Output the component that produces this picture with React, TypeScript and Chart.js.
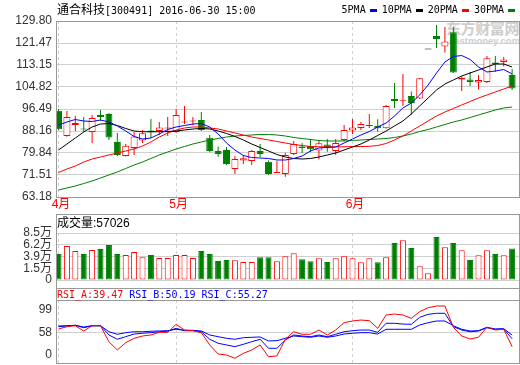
import React, { useEffect, useRef } from 'react';
import { Chart, registerables } from 'chart.js';

Chart.register(...registerables);

// ---------- data ----------
const stockName = '通合科技';
const stockCode = '300491';
const dateTime = '2016-06-30 15:00';

const openPrice = [95.85, 86.27, 90.43, 89.11, 87.78, 94.22, 94.60, 84.00, 78.70, 81.73,
  84.57, 88.35, 88.16, 89.11, 87.78, 91.38, 91.76, 92.33, 85.63, 80.59,
  80.97, 73.78, 76.99, 76.81, 80.59, 76.54, 72.27, 71.89, 79.46, 82.30,
  82.49, 80.78, 83.05, 80.59, 84.76, 88.35, 89.30, 90.06, 90.06, 89.19,
  100.28, 99.40, 101.41, 100.47, 119.01, 124.12, 120.15, 125.50, 107.66, 107.66,
  106.52, 106.71, 114.09, 114.28, 109.36];
const highPrice = [96.50, 95.73, 93.84, 93.46, 94.22, 96.11, 94.98, 87.41, 83.24, 87.78,
  88.54, 92.71, 91.57, 93.46, 96.49, 97.63, 93.46, 95.35, 86.65, 82.30,
  82.11, 78.70, 79.08, 80.97, 83.24, 76.99, 76.81, 79.95, 84.38, 83.62,
  85.14, 84.76, 85.14, 85.14, 90.43, 92.71, 91.57, 94.60, 92.59, 98.00,
  106.33, 109.74, 103.11, 108.20, 119.01, 128.29, 127.53, 127.53, 108.79, 110.50,
  109.36, 116.55, 116.55, 116.17, 111.63];
const lowPrice = [88.50, 86.00, 88.16, 87.78, 83.62, 91.95, 84.76, 78.70, 78.50, 79.08,
  83.62, 85.51, 86.65, 86.27, 87.41, 90.81, 90.24, 88.16, 80.10, 78.43,
  75.29, 71.89, 75.67, 75.29, 78.32, 71.51, 72.27, 70.86, 79.08, 79.84,
  80.33, 77.45, 80.33, 79.08, 84.38, 87.03, 88.54, 89.30, 87.90, 89.11,
  96.87, 97.63, 94.22, 100.30, 119.01, 119.58, 117.88, 110.12, 103.30, 105.20,
  103.87, 106.33, 110.50, 112.58, 103.68];
const closePrice = [88.81, 93.46, 91.19, 88.73, 93.08, 93.46, 85.70, 79.08, 82.60, 86.08,
  87.29, 87.78, 89.49, 89.30, 94.22, 91.68, 92.14, 88.54, 80.59, 79.46,
  75.67, 77.56, 77.83, 80.59, 79.46, 71.89, 72.53, 79.08, 83.24, 81.73,
  81.24, 83.51, 81.99, 83.62, 88.54, 89.49, 90.81, 90.24, 89.19, 97.63,
  99.52, 99.71, 98.76, 108.11, 119.01, 122.99, 122.04, 110.31, 108.22, 106.71,
  107.47, 115.68, 113.52, 115.23, 104.25];

const volume = [47000, 61500, 52400, 47000, 54300, 56100, 63300, 47000, 45200, 50600,
  41000, 45200, 39800, 39800, 45200, 45200, 39800, 52400, 47000, 34400,
  36200, 35600, 32600, 32600, 41000, 41000, 33800, 42800, 48300, 37400,
  33800, 39200, 32600, 39200, 42800, 39200, 32000, 39200, 32000, 41000,
  66900, 71800, 57900, 24800, 12100, 77800, 59100, 66900, 53700, 36200,
  44700, 53700, 47000, 44700, 57026];

const ma5 = [90.43, 91.57, 92.52, 91.95, 91.76, 92.33, 91.57, 90.06, 88.16, 86.08,
  85.13, 85.51, 87.03, 88.73, 89.68, 90.24, 90.81, 91.00, 89.68, 87.03,
  83.62, 80.97, 78.89, 78.13, 77.94, 77.75, 77.19, 77.19, 77.75, 78.70,
  80.59, 81.73, 81.92, 82.11, 83.62, 85.13, 86.65, 87.97, 89.68, 91.19,
  93.84, 96.87, 98.76, 101.79, 105.57, 110.12, 114.28, 116.36, 116.74, 115.23,
  112.39, 110.49, 110.87, 111.44, 109.74];
const ma10 = [80.97, 83.24, 85.51, 87.78, 89.68, 90.81, 91.00, 90.24, 89.11, 88.16,
  87.90, 87.85, 87.90, 87.97, 88.16, 88.54, 88.92, 89.11, 88.92, 88.16,
  87.22, 86.08, 84.76, 83.24, 81.92, 80.59, 79.27, 78.32, 77.75, 77.56,
  77.75, 78.32, 79.08, 79.84, 80.97, 82.11, 83.24, 84.76, 86.46, 88.16,
  90.06, 91.95, 94.60, 97.63, 100.65, 103.68, 105.95, 107.47, 108.98, 110.12,
  111.25, 112.39, 113.52, 113.52, 112.39];
const ma20 = [72.45, 73.78, 74.91, 76.43, 77.56, 78.32, 79.08, 79.84, 80.59, 81.35,
  82.48, 84.00, 85.89, 87.41, 88.54, 89.30, 89.68, 89.68, 89.30, 88.92,
  88.16, 87.41, 86.65, 85.89, 85.32, 84.76, 84.19, 83.62, 83.05, 82.67,
  82.30, 82.20, 82.15, 82.15, 82.20, 82.25, 82.30, 82.35, 82.67, 83.43,
  84.76, 86.27, 88.16, 90.06, 91.95, 93.84, 95.35, 96.68, 98.00, 99.33,
  100.65, 101.79, 102.93, 104.06, 105.20];
const ma30 = [65.83, 66.59, 67.34, 68.29, 69.24, 70.37, 71.51, 72.64, 73.97, 75.29,
  76.43, 77.75, 79.08, 80.21, 81.35, 82.30, 83.24, 84.00, 84.76, 85.32,
  85.89, 86.27, 86.46, 86.65, 86.84, 86.84, 86.65, 86.27, 85.70, 85.32,
  84.95, 84.57, 84.38, 84.38, 84.38, 84.57, 84.76, 84.95, 85.13, 85.32,
  85.70, 86.27, 87.03, 87.97, 88.73, 89.68, 90.62, 91.57, 92.33, 93.27,
  94.22, 95.17, 96.11, 96.87, 97.25];

const rsiA = [63.4, 66.5, 67.8, 60.7, 67.8, 67.8, 46.2, 35.0, 44.9, 50.8,
  53.9, 55.3, 58.9, 58.9, 69.7, 62.0, 61.1, 58.4, 41.8, 29.6,
  28.2, 23.8, 30.5, 35.0, 41.8, 25.9, 26.9, 49.5, 59.7, 56.2,
  56.2, 62.0, 55.3, 62.0, 71.9, 74.2, 75.5, 74.6, 64.3, 82.3,
  83.6, 82.3, 77.8, 86.8, 92.2, 94.5, 94.5, 65.7, 53.9, 49.9,
  52.2, 65.7, 62.0, 63.0, 39.47];
const rsiB = [66.5, 67.4, 68.4, 65.1, 67.8, 67.8, 55.3, 49.5, 53.0, 56.6,
  57.6, 58.4, 59.7, 60.3, 64.3, 61.1, 61.1, 59.7, 49.5, 44.1,
  41.8, 39.5, 42.7, 46.2, 49.5, 37.3, 37.3, 48.5, 55.3, 53.9,
  53.0, 55.3, 53.0, 56.2, 59.7, 61.1, 62.0, 62.0, 58.9, 71.1,
  71.1, 70.1, 69.7, 79.2, 83.2, 84.6, 84.6, 66.5, 62.0, 59.7,
  60.7, 65.1, 63.0, 63.4, 50.19];
const rsiC = [67.4, 67.8, 68.4, 66.1, 67.8, 67.8, 59.7, 56.2, 58.4, 59.7,
  59.7, 60.3, 60.7, 61.1, 63.0, 61.6, 61.6, 60.7, 55.3, 53.0,
  50.8, 49.5, 51.6, 52.2, 52.6, 47.2, 47.6, 50.8, 53.9, 53.0,
  52.2, 53.9, 52.2, 53.9, 56.6, 57.6, 58.4, 58.4, 56.6, 63.0,
  63.0, 63.0, 63.0, 68.8, 71.9, 74.2, 74.2, 67.8, 63.0, 60.7,
  61.1, 65.7, 63.4, 63.8, 55.27];

const monthStarts = [0, 14, 35];
const monthLabels = ['4月', '5月', '6月'];
const priceTicks = [63.18, 71.51, 79.84, 88.16, 96.49, 104.82, 113.15, 121.47, 129.80];
const volTickValues = [0, 19900, 41600, 63300, 85000];
const volTickLabels = ['0', '1.5万', '3.9万', '6.2万', '8.5万'];
const rsiTickValues = [28.2, 58, 89];
const rsiTickLabels = ['0', '58', '99'];
const maLabels = ['5PMA', '10PMA', '20PMA', '30PMA'];

// ---------- styles ----------
const RED = '#ff0000';
const GREEN = '#008000';
const BLUE = '#0000ff';
const BLACK = '#000000';
const GRID = '#d0d0d0';
const FRAME = '#999999';
const LABEL = '#333333';
const maColors = [BLUE, BLACK, RED, GREEN];
const X_MIN = -0.3;
const X_MAX = 54.82;
const SANS = "'Liberation Sans', 'Noto Sans CJK SC', sans-serif";
const MONO = "'DejaVu Sans Mono', monospace";
const CJK = "'Noto Sans CJK SC', sans-serif";
const TICK_FONT = { family: SANS, size: 12 };

const idx = closePrice.map((_, i) => i);
const candleColor = idx.map((i) =>
  closePrice[i] > openPrice[i] ? RED : closePrice[i] < openPrice[i] ? GREEN : BLACK);
const volUp = idx.map((i) => closePrice[i] >= openPrice[i]);

const framePlugin = {
  id: 'frame',
  afterDraw(chart: any, _args: any, opts: any) {
    const { ctx, chartArea } = chart;
    const l = Math.round(chartArea.left) + 0.5;
    const r = Math.round(chartArea.right) + 0.5;
    ctx.save();
    ctx.strokeStyle = FRAME;
    ctx.lineWidth = 1;
    ctx.strokeRect(l, opts.top + 0.5, r - l, opts.bottom - opts.top);
    (opts.lines || []).forEach((y: number) => {
      ctx.beginPath();
      ctx.moveTo(l, y + 0.5);
      ctx.lineTo(r, y + 0.5);
      ctx.stroke();
    });
    ctx.restore();
  },
};

const monthLabelPlugin = {
  id: 'monthLabels',
  afterDraw(chart: any) {
    const { ctx } = chart;
    const xs = chart.scales.x;
    ctx.save();
    ctx.font = `12px ${SANS}`;
    ctx.fillStyle = RED;
    ctx.textAlign = 'center';
    ctx.textBaseline = 'middle';
    monthStarts.forEach((m, k) => ctx.fillText(monthLabels[k], xs.getPixelForValue(m) + 2.5, 205));
    ctx.restore();
  },
};

function xScale() {
  return {
    type: 'linear',
    min: X_MIN,
    max: X_MAX,
    offset: false,
    afterBuildTicks: (s: any) => { s.ticks = monthStarts.map((v) => ({ value: v })); },
    afterFit: (s: any) => { s.height = 0; s.paddingLeft = 0; s.paddingRight = 0; },
    ticks: { display: false },
    grid: { color: GRID, drawTicks: false, offset: false, lineWidth: 1 },
    border: { display: false, dash: [3, 3] },
  };
}

function baseOptions(padding: any, frame: any, yScale: any) {
  return {
    responsive: false,
    maintainAspectRatio: false,
    animation: false,
    devicePixelRatio: 1,
    events: [],
    layout: { padding },
    plugins: { legend: { display: false }, tooltip: { enabled: false }, frame },
    scales: { x: xScale(), y: yScale },
  };
}

function yAxis(min: number, max: number, values: number[], labelOf: (v: number, i: number) => string, gridColor: any) {
  return {
    type: 'linear',
    min,
    max,
    afterBuildTicks: (s: any) => { s.ticks = values.map((v) => ({ value: v })); },
    afterFit: (s: any) => { s.width = 56; s.paddingTop = 0; s.paddingBottom = 0; },
    ticks: {
      font: TICK_FONT,
      color: LABEL,
      padding: 4,
      autoSkip: false,
      callback: (v: any, i: number) => labelOf(Number(v), i),
    },
    grid: { color: gridColor, drawTicks: false },
    border: { display: false },
  };
}

export default function App() {
  const priceRef = useRef<HTMLCanvasElement>(null);
  const volRef = useRef<HTMLCanvasElement>(null);
  const rsiRef = useRef<HTMLCanvasElement>(null);

  useEffect(() => {
    const maSeries = [ma5, ma10, ma20, ma30];
    const priceChart = new Chart(priceRef.current as HTMLCanvasElement, {
      type: 'bar',
      data: {
        datasets: [
          ...maSeries.map((s, k) => ({
            type: 'line',
            label: maLabels[k],
            data: idx.map((i) => ({ x: i, y: s[i] })),
            borderColor: maColors[k],
            borderWidth: 1,
            pointRadius: 0,
            tension: 0,
            order: 0,
          })),
          {
            type: 'bar',
            label: 'body',
            data: idx.map((i) => ({ x: i, y: [openPrice[i], closePrice[i]] })),
            backgroundColor: idx.map((i) => (candleColor[i] === RED ? '#ffffff' : candleColor[i])),
            borderColor: candleColor,
            borderWidth: 1,
            borderSkipped: false,
            barThickness: 7,
            grouped: false,
            minBarLength: 1,
            inflateAmount: 0,
            order: 1,
          },
          {
            type: 'bar',
            label: 'wick',
            data: idx.map((i) => ({ x: i, y: [lowPrice[i], highPrice[i]] })),
            backgroundColor: candleColor,
            borderWidth: 0,
            barThickness: 1,
            grouped: false,
            inflateAmount: 0,
            order: 2,
          },
        ],
      },
      options: baseOptions(
        { top: 21, bottom: 17, left: 0, right: 1 },
        { top: 21, bottom: 197 },
        yAxis(priceTicks[0], priceTicks[priceTicks.length - 1], priceTicks, (v) => v.toFixed(2), GRID),
      ),
      plugins: [framePlugin, monthLabelPlugin],
    } as any);

    const volChart = new Chart(volRef.current as HTMLCanvasElement, {
      type: 'bar',
      data: {
        datasets: [
          {
            label: '成交量',
            data: idx.map((i) => ({ x: i, y: volume[i] })),
            backgroundColor: idx.map((i) => (volUp[i] ? '#ffffff' : GREEN)),
            borderColor: idx.map((i) => (volUp[i] ? RED : GREEN)),
            borderWidth: 1,
            borderSkipped: false,
            barThickness: 6,
            grouped: false,
            inflateAmount: 0,
          },
        ],
      },
      options: baseOptions(
        { top: 19, bottom: 8, left: 0, right: 1 },
        { top: 0, bottom: 80 },
        yAxis(0, volTickValues[volTickValues.length - 1], volTickValues, (_v, i) => volTickLabels[i], GRID),
      ),
      plugins: [framePlugin],
    } as any);

    const rsiChart = new Chart(rsiRef.current as HTMLCanvasElement, {
      type: 'line',
      data: {
        datasets: [
          { label: 'RSI_A', data: idx.map((i) => ({ x: i, y: rsiA[i] })), borderColor: RED, borderWidth: 1, pointRadius: 0, tension: 0 },
          { label: 'RSI_B', data: idx.map((i) => ({ x: i, y: rsiB[i] })), borderColor: BLUE, borderWidth: 1, pointRadius: 0, tension: 0 },
          { label: 'RSI_C', data: idx.map((i) => ({ x: i, y: rsiC[i] })), borderColor: BLUE, borderWidth: 1, pointRadius: 0, tension: 0 },
        ],
      },
      options: baseOptions(
        { top: 12, bottom: 2, left: 0, right: 1 },
        { top: 0, bottom: 75, lines: [12] },
        yAxis(17.4, 102.6, rsiTickValues, (_v, i) => rsiTickLabels[i],
          (ctx: any) => (ctx.tick && ctx.tick.value === 58 ? GRID : 'rgba(0,0,0,0)')),
      ),
      plugins: [framePlugin],
    } as any);

    return () => {
      priceChart.destroy();
      volChart.destroy();
      rsiChart.destroy();
    };
  }, []);

  const last = closePrice.length - 1;

  return (
    <div style={{ position: 'absolute', left: 0, top: 0, width: 520, height: 365, background: '#ffffff', overflow: 'hidden' }}>
      {/* watermark */}
      <div style={{ position: 'absolute', left: 446, top: 19, fontFamily: CJK, fontSize: 15, fontWeight: 'bold', color: '#cdcdcd', lineHeight: '18px', whiteSpace: 'nowrap', letterSpacing: -0.4 }}>东方财富网</div>
      <div style={{ position: 'absolute', left: 449, top: 36, fontFamily: "'Liberation Sans', sans-serif", fontSize: 9.5, fontWeight: 'bold', color: '#cdcdcd', lineHeight: '10px', whiteSpace: 'nowrap' }}>eastmoney.com</div>

      <canvas ref={priceRef} width={520} height={214} style={{ position: 'absolute', left: 0, top: 0 }} />
      <canvas ref={volRef} width={520} height={74} style={{ position: 'absolute', left: 0, top: 214 }} />
      <canvas ref={rsiRef} width={520} height={77} style={{ position: 'absolute', left: 0, top: 288 }} />

      {/* title */}
      <div style={{ position: 'absolute', left: 57, top: 2, height: 14, lineHeight: '14px', whiteSpace: 'nowrap', color: '#000' }}>
        <span style={{ fontFamily: CJK, fontSize: 12 }}>{stockName}</span><span style={{ fontFamily: MONO, fontSize: 10 }}>{`[${stockCode}] ${dateTime}`}</span>
      </div>

      {/* legend */}
      <div style={{ position: 'absolute', right: 5, top: 3, height: 14, display: 'flex', alignItems: 'center', fontFamily: MONO, fontSize: 10, color: '#000', whiteSpace: 'nowrap' }}>
        {maLabels.map((lab, k) => (
          <React.Fragment key={lab}>
            <span style={{ marginLeft: k === 0 ? 0 : 5, lineHeight: '14px' }}>{lab}</span>
            <span style={{ display: 'inline-block', width: 7, height: 3, marginLeft: 4, background: maColors[k] }} />
          </React.Fragment>
        ))}
      </div>

      {/* volume label */}
      <div style={{ position: 'absolute', left: 57, top: 216, lineHeight: '14px', fontFamily: SANS, fontSize: 12, color: '#000', whiteSpace: 'nowrap' }}>
        成交量:{volume[last]}
      </div>

      {/* RSI label */}
      <div style={{ position: 'absolute', left: 57, top: 288, lineHeight: '13px', fontFamily: MONO, fontSize: 10, whiteSpace: 'pre' }}>
        <span style={{ color: RED }}>{`RSI_A:${rsiA[last].toFixed(2)}`}</span>
        <span> </span>
        <span style={{ color: BLUE }}>{`RSI_B:${rsiB[last].toFixed(2)}`}</span>
        <span> </span>
        <span style={{ color: BLUE }}>{`RSI_C:${rsiC[last].toFixed(2)}`}</span>
      </div>
    </div>
  );
}
